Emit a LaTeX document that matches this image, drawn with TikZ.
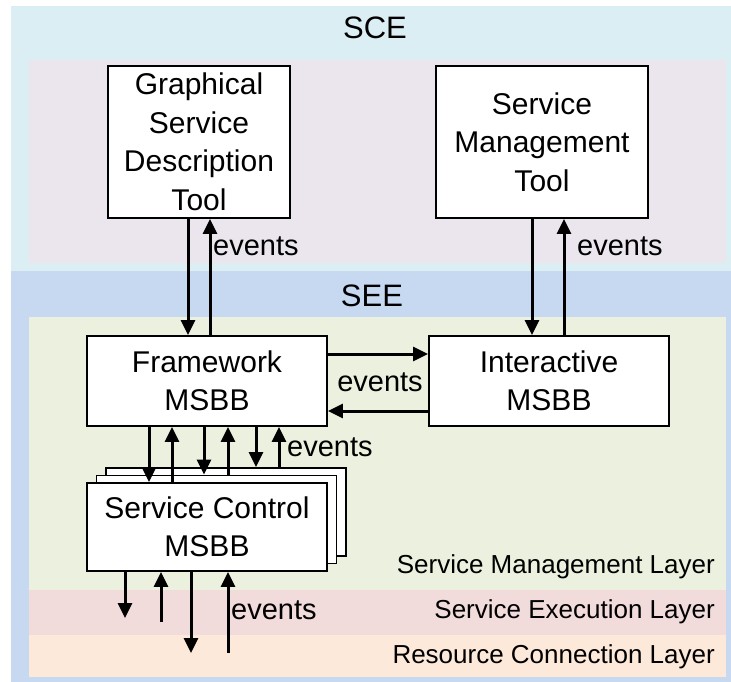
\documentclass[tikz,border=0pt]{standalone}
\usepackage{fontspec}
\setmainfont{Liberation Sans}
\usepackage{xcolor}
\usetikzlibrary{arrows.meta}
\usetikzlibrary{positioning, calc}
\definecolor{sceblue}{RGB}{218,238,243}
\definecolor{seeblue}{RGB}{198,217,241}
\definecolor{toolpink}{RGB}{235,230,238}
\definecolor{mgmtgreen}{RGB}{235,241,222}
\definecolor{execred}{RGB}{242,220,219}
\definecolor{respeach}{RGB}{253,233,217}

\tikzset{
block/.style={draw, line width=1.9pt, fill=white, align=center, inner sep=0pt, font=\fontsize{30}{38.5}\selectfont},
flow/.style={-{Triangle[length=15pt,width=14pt]}, line width=3pt},
evlabel/.style={anchor=west, inner sep=0pt, font=\fontsize{29}{31}\selectfont},
layerlabel/.style={anchor=east, inner sep=0pt, font=\fontsize{26}{28}\selectfont},
envlabel/.style={inner sep=0pt, font=\fontsize{31}{33}\selectfont}
}

\begin{document}
\begin{tikzpicture}[x=1pt, y=-1pt]
\useasboundingbox (0,0) rectangle (731,682);

%environments and layers
\fill[sceblue] (11,6) rectangle (731,271);
\fill[toolpink] (29,60) rectangle (726,263);
\fill[seeblue] (11,271) rectangle (731,682);
\fill[mgmtgreen] (29,317) rectangle (726,590);
\fill[execred] (29,590) rectangle (726,635);
\fill[respeach] (29,635) rectangle (726,677);

\node[envlabel] (sce) at (375,28) {SCE};
\node[envlabel] (see) at (372,296) {SEE};

\node[layerlabel] (sml) at (715,567) {Service Management Layer};
\node[layerlabel] (sel) at (715,612) {Service Execution Layer};
\node[layerlabel] (rcl) at (715,657) {Resource Connection Layer};

%tools
\node[block, minimum width=182pt, minimum height=152pt] (gsdt) at (199,142) {Graphical\\Service\\Description\\Tool};
\node[block, minimum width=212pt, minimum height=152pt] (smt) at (542,142) {Service\\Management\\Tool};

%msbbs
\node[block, minimum width=240pt, minimum height=90pt] (fw) at (207,381) {Framework\\MSBB};
\node[block, minimum width=240pt, minimum height=90pt] (imsbb) at (549,381) {Interactive\\MSBB};
\node[block, minimum width=240pt, minimum height=88pt] (sc3) at (226,512) {};
\node[block, minimum width=240pt, minimum height=88pt] (sc2) at (216.5,519.5) {};
\node[block, minimum width=240pt, minimum height=88pt] (sc) at (207,527) {Service Control\\MSBB};

%free ends in the lower layers
\coordinate (execend) at (0,618);
\coordinate (execstart) at (0,622);
\coordinate (resend) at (0,653);

%tools <-> msbbs
\draw[flow] ([xshift=-11pt]gsdt.south) -- ([xshift=-11pt]gsdt.south |- fw.north);
\draw[flow] ([xshift=11pt]gsdt.south |- fw.north) -- ([xshift=11pt]gsdt.south);
\node[evlabel] (ev1) at (213,246) {events};
\draw[flow] ([xshift=-10pt]smt.south) -- ([xshift=-10pt]smt.south |- imsbb.north);
\draw[flow] ([xshift=22pt]smt.south |- imsbb.north) -- ([xshift=22pt]smt.south);
\node[evlabel] (ev2) at (577,246) {events};

%framework <-> interactive
\draw[flow] ([yshift=27pt]fw.east) -- ([yshift=27pt]fw.east -| imsbb.west);
\draw[flow] ([yshift=-30pt]imsbb.west) -- ([yshift=-30pt]imsbb.west -| fw.east);
\node[evlabel, anchor=center] (ev3) at (380,382) {events};

%framework <-> service control
\draw[flow] ([xshift=-58pt]fw.south) -- ([xshift=-58pt]fw.south |- sc.north);
\draw[flow] ([xshift=-35pt]fw.south |- sc.north) -- ([xshift=-35pt]fw.south);
\draw[flow] ([xshift=-3pt]fw.south) -- ([xshift=-3pt]fw.south |- sc2.north);
\draw[flow] ([xshift=21pt]fw.south |- sc2.north) -- ([xshift=21pt]fw.south);
\draw[flow] ([xshift=49pt]fw.south) -- ([xshift=49pt]fw.south |- sc3.north);
\draw[flow] ([xshift=72pt]fw.south |- sc3.north) -- ([xshift=72pt]fw.south);
\node[evlabel] (ev4) at (287,447) {events};

%service control <-> lower layers
\draw[flow] ([xshift=-82pt]sc.south) -- ([xshift=-82pt]sc.south |- execend);
\draw[flow] ([xshift=-46pt]sc.south |- execstart) -- ([xshift=-46pt]sc.south);
\draw[flow] ([xshift=-16pt]sc.south) -- ([xshift=-16pt]sc.south |- resend);
\draw[flow] ([xshift=21pt]sc.south |- resend) -- ([xshift=21pt]sc.south);
\node[evlabel] (ev5) at (231,610) {events};
\end{tikzpicture}
\end{document}
